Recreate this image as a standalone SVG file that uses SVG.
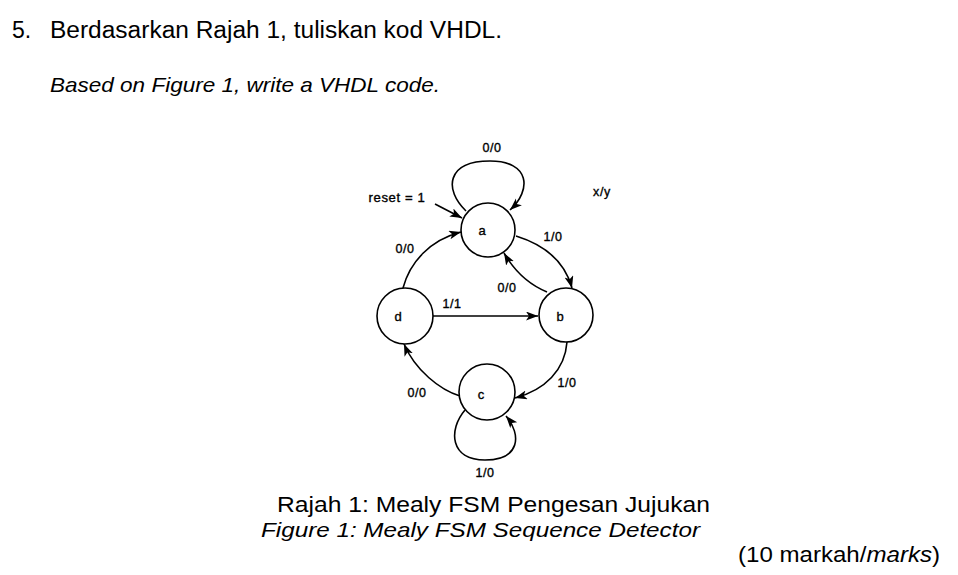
<svg xmlns="http://www.w3.org/2000/svg" width="958" height="575" viewBox="0 0 958 575">
<style>
.t{font-family:"Liberation Sans",Arial,sans-serif;fill:#000}
.i{font-style:italic}
.s{font-size:12.5px;text-anchor:middle;letter-spacing:0.6px;stroke:#000;stroke-width:0.35}
.n{font-size:13px;text-anchor:middle;stroke:#000;stroke-width:0.35}
.st{fill:#fff;stroke:#000;stroke-width:1.6}
.e{fill:none;stroke:#000;stroke-width:1.6;marker-end:url(#ah)}
</style>
<defs>
<marker id="ah" markerUnits="userSpaceOnUse" markerWidth="13" markerHeight="10" refX="12" refY="4.5" orient="auto">
<path d="M0,0 L12,4.5 L0,9 L3,4.5 z" fill="#000"/>
</marker>
</defs>
<rect width="958" height="575" fill="#fff"/>
<text class="t" x="12" y="38" font-size="23">5.</text>
<text class="t" x="50" y="38" font-size="23" textLength="452" lengthAdjust="spacingAndGlyphs">Berdasarkan Rajah 1, tuliskan kod VHDL.</text>
<text class="t i" x="50" y="92" font-size="21" textLength="390" lengthAdjust="spacingAndGlyphs">Based on Figure 1, write a VHDL code.</text>

<g id="connectors">
<path class="e" d="M466,211 C444,190 446,161 490,161 C530,161 532,190 510,210"/>
<path class="e" d="M435,204 L462,218"/>
<path class="e" d="M516,236 C545,245 565,262 572,288"/>
<path class="e" d="M547,292 C530,285 515,272 504,253"/>
<path class="e" d="M403,288 C410,262 430,240 461,232"/>
<path class="e" d="M433,316 L538,316"/>
<path class="e" d="M567,342 C565,370 545,390 515,398"/>
<path class="e" d="M460,396 C440,390 415,370 404,344"/>
<path class="e" d="M465,410 C448,430 450,460 485,460 C520,460 522,435 506,416"/>
<text class="t s" x="492" y="152">0/0</text>
<text class="t s" x="397" y="202" textLength="57" lengthAdjust="spacingAndGlyphs">reset = 1</text>
<text class="t s" x="602" y="196">x/y</text>
<text class="t s" x="553" y="241">1/0</text>
<text class="t s" x="405" y="253">0/0</text>
<text class="t s" x="507" y="292">0/0</text>
<text class="t s" x="452" y="308">1/1</text>
<text class="t s" x="567" y="387">1/0</text>
<text class="t s" x="417" y="397">0/0</text>
<text class="t s" x="485" y="477">1/0</text>
</g>

<g id="node-a"><circle class="st" cx="488" cy="230" r="27"/><text class="t n" x="482" y="235">a</text></g>
<g id="node-b"><circle class="st" cx="566" cy="315" r="27"/><text class="t n" x="560" y="321">b</text></g>
<g id="node-d"><circle class="st" cx="405" cy="316" r="28"/><text class="t n" x="398" y="321">d</text></g>
<g id="node-c"><circle class="st" cx="487" cy="392" r="28"/><text class="t n" x="481" y="399">c</text></g>

<text class="t" x="277" y="512" font-size="22" textLength="433" lengthAdjust="spacingAndGlyphs">Rajah 1: Mealy FSM Pengesan Jujukan</text>
<text class="t i" x="261" y="537" font-size="21" textLength="439" lengthAdjust="spacingAndGlyphs">Figure 1: Mealy FSM Sequence Detector</text>
<text class="t" x="738" y="562" font-size="22" textLength="202" lengthAdjust="spacingAndGlyphs">(10 markah/<tspan class="i">marks</tspan>)</text>
</svg>
